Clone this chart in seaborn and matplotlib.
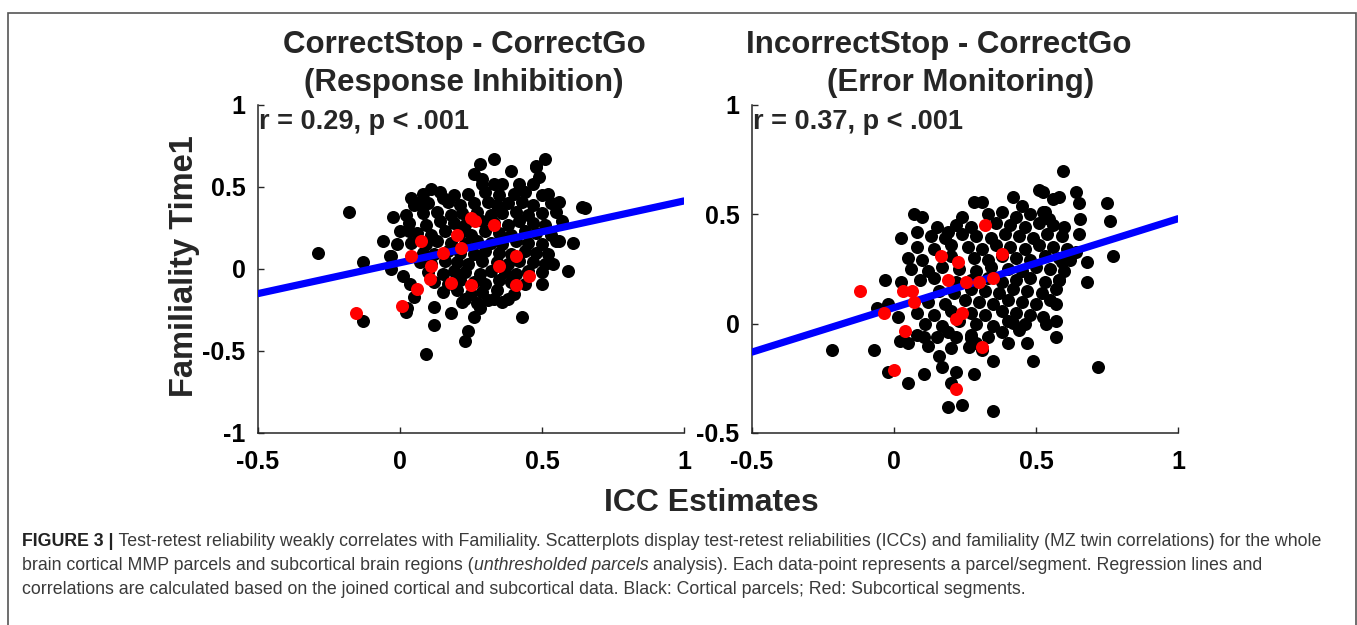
import matplotlib
matplotlib.use("Agg")
import matplotlib.pyplot as plt
import matplotlib.patches as mpatches
import seaborn as sns
import pandas as pd

# ---- CorrectStop - CorrectGo (left panel): (ICC, familiality)
left_cortical = [
    (-0.29, 0.10), (-0.18, 0.35), (-0.13, -0.32), (-0.13, 0.04), (-0.025, 0.32), (-0.06, 0.17),
    (-0.03, 0.08), (0.02, -0.26), (0.09, -0.52), (0.12, -0.23), (0.12, -0.34), (0.18, -0.27),
    (0.23, -0.44), (0.24, -0.38), (0.26, -0.29), (0.28, -0.24), (0.43, -0.29), (0.50, -0.09),
    (0.59, -0.01), (0.61, 0.16), (0.65, 0.37), (0.56, 0.41), (0.51, 0.67), (0.48, 0.63),
    (0.33, 0.67), (0.28, 0.64), (0.39, 0.60), (0.11, 0.49), (0.04, 0.43), (0.15, 0.43),
    (0.26, 0.58), (0.29, 0.55), (0.48, 0.62), (0.49, 0.56), (0.29, 0.52), (0.33, 0.52),
    (0.36, 0.52), (0.42, 0.52), (0.47, 0.52), (0.52, 0.46), (0.64, 0.38), (0.54, 0.03),
    (0.56, 0.17), (0.23, -0.18), (0.38, -0.18), (0.33, -0.18), (0.0, 0.23), (0.03, 0.23),
    (-0.01, 0.15), (-0.035, 0.08), (-0.03, 0.0), (0.01, -0.04), (0.035, -0.09), (0.05, -0.17),
    (0.025, -0.24), (0.07, 0.41),
    (0.08, 0.46), (0.14, 0.47), (0.19, 0.45), (0.24, 0.46), (0.30, 0.47), (0.35, 0.45),
    (0.40, 0.46), (0.44, 0.47), (0.50, 0.45),
    (0.05, 0.39), (0.10, 0.40), (0.17, 0.41), (0.21, 0.39), (0.26, 0.40), (0.31, 0.41),
    (0.34, 0.39), (0.38, 0.40), (0.43, 0.41), (0.47, 0.39), (0.53, 0.40),
    (0.02, 0.33), (0.08, 0.34), (0.13, 0.35), (0.18, 0.33), (0.22, 0.34), (0.27, 0.35),
    (0.32, 0.33), (0.36, 0.34), (0.41, 0.35), (0.45, 0.33), (0.50, 0.34), (0.55, 0.35),
    (0.03, 0.28), (0.09, 0.27), (0.14, 0.29), (0.19, 0.28), (0.23, 0.27), (0.29, 0.29),
    (0.33, 0.28), (0.38, 0.27), (0.42, 0.29), (0.47, 0.28), (0.51, 0.27), (0.57, 0.29),
    (0.06, 0.22), (0.11, 0.21), (0.16, 0.23), (0.21, 0.22), (0.25, 0.21), (0.30, 0.23),
    (0.35, 0.22), (0.39, 0.21), (0.44, 0.23), (0.48, 0.22), (0.53, 0.21),
    (0.04, 0.16), (0.09, 0.15), (0.13, 0.17), (0.18, 0.16), (0.23, 0.15), (0.27, 0.17),
    (0.32, 0.16), (0.36, 0.15), (0.41, 0.17), (0.45, 0.16), (0.50, 0.15), (0.55, 0.17),
    (0.08, 0.10), (0.12, 0.09), (0.17, 0.11), (0.21, 0.10), (0.26, 0.09), (0.30, 0.11),
    (0.35, 0.10), (0.39, 0.09), (0.44, 0.11), (0.48, 0.10), (0.52, 0.09),
    (0.07, 0.04), (0.11, 0.03), (0.16, 0.05), (0.20, 0.04), (0.24, 0.03), (0.29, 0.05),
    (0.34, 0.04), (0.38, 0.03), (0.42, 0.05), (0.47, 0.04), (0.51, 0.03),
    (0.10, -0.02), (0.15, -0.03), (0.19, -0.01), (0.23, -0.02), (0.28, -0.03), (0.32, -0.01),
    (0.37, -0.02), (0.41, -0.03), (0.45, -0.01), (0.50, -0.02),
    (0.12, -0.08), (0.17, -0.09), (0.21, -0.07), (0.26, -0.08), (0.30, -0.09), (0.35, -0.07),
    (0.39, -0.08), (0.44, -0.09),
    (0.15, -0.14), (0.20, -0.13), (0.25, -0.15), (0.29, -0.14), (0.34, -0.13), (0.40, -0.15),
    (0.22, -0.20), (0.27, -0.21), (0.31, -0.19), (0.36, -0.20),
]
left_subcortical = [
    (0.074, 0.17), (0.04, 0.08), (0.11, 0.02), (0.106, -0.06), (0.06, -0.12), (0.007, -0.225),
    (-0.155, -0.27), (0.15, 0.10), (0.20, 0.21), (0.215, 0.13), (0.25, 0.31), (0.265, 0.29),
    (0.33, 0.27), (0.18, -0.085), (0.25, -0.10), (0.35, 0.02), (0.41, 0.08), (0.455, -0.04),
    (0.41, -0.10),
]
left_fit_x = [-0.5, 1.0]
left_fit_y = [-0.15, 0.415]

# ---- IncorrectStop - CorrectGo (right panel)
right_cortical = [
    (-0.22, -0.12), (-0.07, -0.12), (-0.02, -0.22), (0.05, -0.27), (0.105, -0.23), (0.19, -0.38),
    (0.24, -0.37), (0.35, -0.40), (0.17, -0.20), (0.22, -0.22), (0.20, -0.27), (0.16, -0.15),
    (0.28, -0.23), (0.35, -0.17), (0.49, -0.17), (0.72, -0.20), (0.57, -0.06), (0.47, -0.09),
    (0.40, -0.09), (0.68, 0.19), (0.68, 0.28), (0.77, 0.31), (0.76, 0.47), (0.75, 0.55),
    (0.655, 0.48), (0.65, 0.55), (0.64, 0.60), (0.595, 0.70), (0.51, 0.61), (0.525, 0.60),
    (0.56, 0.57), (0.58, 0.58), (0.42, 0.58), (0.45, 0.54), (0.28, 0.555), (0.31, 0.555),
    (0.24, 0.49), (0.07, 0.50), (0.10, 0.49), (0.08, 0.42), (0.025, 0.39), (0.15, 0.44),
    (0.19, 0.42), (-0.03, 0.20), (0.025, 0.19), (-0.06, 0.07), (-0.02, 0.09), (0.015, 0.03),
    (0.02, -0.08), (0.05, -0.09), (0.105, -0.06), (0.15, -0.06), (0.22, -0.06), (0.27, -0.065),
    (0.265, -0.105), (0.57, 0.01), (0.535, 0.0), (0.525, 0.03), (0.44, -0.03), (0.42, 0.005),
    (0.65, 0.41), (0.59, 0.28), (0.58, 0.20), (0.57, 0.09), (0.525, 0.51), (0.545, 0.48),
    (0.64, 0.33),
    (0.33, 0.50), (0.38, 0.51), (0.43, 0.49), (0.48, 0.50), (0.53, 0.51),
    (0.22, 0.45), (0.27, 0.44), (0.36, 0.46), (0.41, 0.45), (0.46, 0.44), (0.51, 0.46),
    (0.56, 0.45), (0.60, 0.44),
    (0.13, 0.40), (0.18, 0.39), (0.24, 0.41), (0.29, 0.40), (0.34, 0.39), (0.39, 0.41),
    (0.44, 0.40), (0.49, 0.39), (0.54, 0.41), (0.59, 0.40),
    (0.08, 0.35), (0.14, 0.34), (0.20, 0.36), (0.26, 0.35), (0.31, 0.34), (0.36, 0.36),
    (0.41, 0.35), (0.46, 0.34), (0.51, 0.36), (0.56, 0.35), (0.61, 0.34),
    (0.05, 0.30), (0.10, 0.29), (0.20, 0.31), (0.28, 0.30), (0.33, 0.29), (0.38, 0.31),
    (0.43, 0.30), (0.48, 0.29), (0.53, 0.31), (0.58, 0.30), (0.62, 0.29),
    (0.06, 0.25), (0.12, 0.24), (0.17, 0.26), (0.23, 0.25), (0.29, 0.24), (0.34, 0.26),
    (0.40, 0.25), (0.45, 0.24), (0.50, 0.26), (0.55, 0.25), (0.60, 0.24),
    (0.09, 0.20), (0.14, 0.21), (0.22, 0.19), (0.27, 0.20), (0.33, 0.21), (0.38, 0.19),
    (0.43, 0.20), (0.48, 0.21), (0.53, 0.19), (0.58, 0.20),
    (0.16, 0.15), (0.21, 0.14), (0.27, 0.16), (0.32, 0.15), (0.37, 0.14), (0.42, 0.16),
    (0.47, 0.15), (0.52, 0.14), (0.57, 0.16),
    (0.12, 0.10), (0.18, 0.09), (0.25, 0.11), (0.30, 0.10), (0.35, 0.09), (0.40, 0.11),
    (0.45, 0.10), (0.50, 0.09), (0.55, 0.11),
    (0.08, 0.05), (0.14, 0.04), (0.20, 0.06), (0.27, 0.05), (0.32, 0.04), (0.38, 0.06),
    (0.43, 0.05), (0.48, 0.04),
    (0.11, 0.00), (0.17, -0.01), (0.23, 0.01), (0.29, 0.00), (0.35, -0.01), (0.40, 0.01),
    (0.46, 0.00),
    (0.08, -0.05), (0.19, -0.04), (0.27, -0.05), (0.33, -0.06), (0.38, -0.04),
    (0.12, -0.10), (0.20, -0.11), (0.29, -0.09), (0.31, -0.12),
]
right_subcortical = [
    (0.32, 0.45), (0.165, 0.31), (0.225, 0.28), (0.38, 0.32), (0.19, 0.20), (0.255, 0.19),
    (0.30, 0.19), (0.35, 0.21), (-0.12, 0.15), (0.03, 0.15), (0.065, 0.15), (0.07, 0.10),
    (-0.035, 0.05), (0.04, -0.035), (0.22, 0.02), (0.24, 0.05), (0.31, -0.105), (0.0, -0.21),
    (0.22, -0.30),
]
right_fit_x = [-0.5, 1.0]
right_fit_y = [-0.13, 0.48]

titles = [("CorrectStop - CorrectGo", "(Response Inhibition)"),
          ("IncorrectStop - CorrectGo", "(Error Monitoring)")]
stats = ["r = 0.29, p < .001", "r = 0.37, p < .001"]
x_ticks = [-0.5, 0, 0.5, 1]
x_ticklabels = ["-0.5", "0", "0.5", "1"]
left_yticks = [-1, -0.5, 0, 0.5, 1]
left_yticklabels = ["-1", "-0.5", "0", "0.5", "1"]
right_yticks = [-0.5, 0, 0.5, 1]
right_yticklabels = ["-0.5", "0", "0.5", "1"]

sns.set_theme(style="white")
plt.rcParams['font.family'] = ['Liberation Sans', 'DejaVu Sans']

fig = plt.figure(figsize=(13.57, 6.25), dpi=100)
ax_l = fig.add_axes([258 / 1357, 192 / 625, 426 / 1357, 328 / 625])
ax_r = fig.add_axes([752 / 1357, 192 / 625, 426 / 1357, 328 / 625])

panels = [
    (ax_l, left_cortical, left_subcortical, left_fit_x, left_fit_y, (-1, 1), left_yticks, left_yticklabels),
    (ax_r, right_cortical, right_subcortical, right_fit_x, right_fit_y, (-0.5, 1), right_yticks, right_yticklabels),
]
title_x = [(0.484, 0.484), (0.439, 0.49)]

for i, (ax, cort, sub, fx, fy, ylim, yt, ytl) in enumerate(panels):
    cdf = pd.DataFrame(cort, columns=["icc", "fam"])
    sdf = pd.DataFrame(sub, columns=["icc", "fam"])
    fdf = pd.DataFrame({"icc": fx, "fam": fy})
    sns.scatterplot(data=cdf, x="icc", y="fam", ax=ax, color="black", s=88, linewidth=0, zorder=2)
    sns.lineplot(data=fdf, x="icc", y="fam", ax=ax, color="#0000ff", linewidth=5.2, zorder=3)
    sns.scatterplot(data=sdf, x="icc", y="fam", ax=ax, color="#ff0000", s=88, linewidth=0, zorder=4)

    ax.set_xlim(-0.5, 1)
    ax.set_ylim(*ylim)
    ax.set_xticks(x_ticks)
    ax.set_xticklabels(x_ticklabels)
    ax.set_yticks(yt)
    ax.set_yticklabels(ytl)
    ax.set_xlabel("")
    ax.set_ylabel("")
    for side in ["top", "right"]:
        ax.spines[side].set_visible(False)
    for side in ["left", "bottom"]:
        ax.spines[side].set_color("#262626")
        ax.spines[side].set_linewidth(1.1)
    ax.tick_params(axis="both", direction="in", length=4, width=1, color="#262626",
                   labelsize=18, labelcolor="black", left=True, bottom=True)
    ax.tick_params(axis="x", pad=12)
    ax.tick_params(axis="y", pad=9)
    for lab in ax.get_xticklabels() + ax.get_yticklabels():
        lab.set_fontweight("bold")

    ax.text(title_x[i][0], 1.183, titles[i][0], transform=ax.transAxes, ha="center", va="center",
            fontsize=22.5, fontweight="bold")
    ax.text(title_x[i][1], 1.067, titles[i][1], transform=ax.transAxes, ha="center", va="center",
            fontsize=22.5, fontweight="bold")
    ax.text(0.003, 0.948, stats[i], transform=ax.transAxes, ha="left", va="center",
            fontsize=19.5, fontweight="bold")

fig.text(185 / 1357, 1 - 266 / 625, "Familiality Time1", rotation=90, ha="center", va="center",
         fontsize=23.5, fontweight="bold")
fig.text(711 / 1357, 1 - 503 / 625, "ICC Estimates", ha="center", va="center",
         fontsize=23, fontweight="bold")

# outer frame of the figure panel
fig.add_artist(mpatches.Rectangle((8 / 1357, -0.05), 1348 / 1357, (625 - 13) / 625 + 0.05,
                                  transform=fig.transFigure, fill=False, edgecolor="#555555",
                                  linewidth=1.2, clip_on=False))

# caption with mixed styles
caption = [
    [("FIGURE 3 |", "bold", "normal"),
     (" Test-retest reliability weakly correlates with Familiality. Scatterplots display test-retest "
      "reliabilities (ICCs) and familiality (MZ twin correlations) for the whole", "normal", "normal")],
    [("brain cortical MMP parcels and subcortical brain regions (", "normal", "normal"),
     ("unthresholded parcels", "normal", "italic"),
     (" analysis). Each data-point represents a parcel/segment. Regression lines and", "normal", "normal")],
    [("correlations are calculated based on the joined cortical and subcortical data. Black: Cortical "
      "parcels; Red: Subcortical segments.", "normal", "normal")],
]
caption_y = [541, 565, 589]
renderer = fig.canvas.get_renderer()
inv = fig.transFigure.inverted()
for parts, ypx in zip(caption, caption_y):
    x = 22 / 1357
    for txt, weight, style in parts:
        t = fig.text(x, 1 - ypx / 625, txt, ha="left", va="center", fontsize=12.8,
                     fontweight=weight, fontstyle=style, color="#3a3a3a" if weight == "normal" else "#222222")
        bb = t.get_window_extent(renderer)
        x = inv.transform((bb.x1, bb.y0))[0]

fig.savefig("out.png", dpi=100, facecolor="white")
